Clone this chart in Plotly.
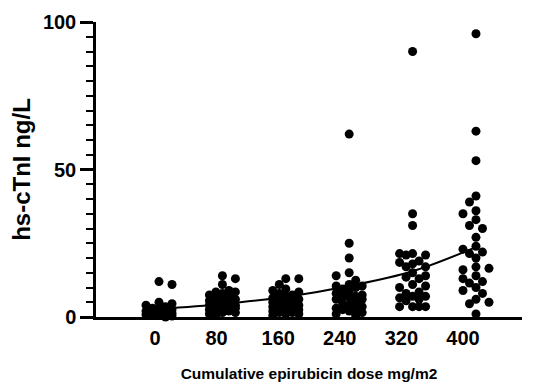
import plotly.graph_objects as go

# ---- data ----
dose_labels = ["0", "80", "160", "240", "320", "400"]
g0 = [12, 11, 5, 4.5, 4, 3.5, 3, 3, 2.5, 2, 2, 1.5, 1.5, 1.2, 1, 0.8, 0.5, 0.5, 0.3, 0]
g80 = [14, 13, 11, 9, 8.5, 8.5, 8, 7.5, 7, 6.5, 6, 6, 5.5, 5, 5, 4.5, 4, 4, 3.5,
       3.5, 3, 3, 2.5, 2, 2, 1.5, 1.5, 1, 0.5]
g160 = [13, 13, 11, 9.5, 9, 8.5, 8, 7.5, 7, 6.5, 6, 6, 5.5, 5, 5, 4.5, 4, 4, 3.5,
        3.5, 3, 3, 2.5, 2, 2, 1.5, 1.5, 1, 1, 0.5]
g240 = [62, 25, 20, 15, 14, 12.5, 11, 10.5, 10.5, 10, 9.5, 8.5, 8, 7.5, 7, 7, 6.5,
        6, 6, 5, 4.5, 4, 3.5, 3, 2.5, 2.5, 2, 1.5, 1, 0.5]
g320 = [90, 35, 31, 21.5, 21, 21.5, 21, 19, 18.5, 18, 17, 17, 15, 14, 13.5, 13, 11,
        10.5, 10, 8.5, 8, 7, 7, 6.5, 6, 5.5, 3.5, 3.5, 3.5, 3.5]
g400 = [96, 63, 53, 41, 39, 36, 35, 33, 31, 30, 27, 24, 23, 22, 21.5, 20, 17, 16.5,
        16, 14, 13, 12, 11.5, 10, 9, 8, 6, 5, 4.5, 1]
groups = [g0, g80, g160, g240, g320, g400]
trend = [2.7, 4.4, 6.8, 10.5, 15.5, 23.7]

# ---- layout constants ----
W, H = 536, 387
ML, MR, MT, MB = 96, 14, 22, 70
XR = [-0.994, 5.726]          # data axis
XR_LABELS = [-0.958, 5.958]   # label axis (labels are set slightly tighter)
YR = [0, 100]
ppu_x = (W - ML - MR) / (XR[1] - XR[0])
ppu_y = (H - MT - MB) / (YR[1] - YR[0])
MS = 9


def swarm(values, d_px=7.5, step_px=6.5, nmax=2):
    placed = []
    offs = [0.0] * len(values)
    order = sorted(range(len(values)), key=lambda i: -values[i])
    cands = [0.0]
    for m in range(1, nmax + 1):
        cands += [-m * step_px, m * step_px]
    for n, i in enumerate(order):
        y = values[i] * ppu_y
        cc = cands if n % 2 == 0 else [-c for c in cands]
        best, best_d = cc[0], -1.0
        chosen = None
        for c in cc:
            dmin = min([((c - px) ** 2 + (y - py) ** 2) ** 0.5 for px, py in placed] or [1e9])
            if dmin >= d_px:
                chosen = c
                break
            if dmin > best_d:
                best, best_d = c, dmin
        if chosen is None:
            chosen = best
        placed.append((chosen, y))
        offs[i] = chosen / ppu_x
    return offs


xs, ys = [], []
for gi, vals in enumerate(groups):
    offs = swarm(vals)
    xs += [gi + o for o in offs]
    ys += vals

font_b = dict(family="Liberation Sans, Arial, sans-serif", color="black", weight="bold")

fig = go.Figure()
fig.add_trace(go.Scatter(
    x=xs, y=ys, mode="markers",
    marker=dict(size=MS, color="black"),
    cliponaxis=False, showlegend=False, hoverinfo="skip"))
fig.add_trace(go.Scatter(
    x=list(range(len(trend))), y=trend, mode="lines",
    line=dict(color="black", width=2, shape="spline"),
    cliponaxis=False, showlegend=False, hoverinfo="skip"))
# carrier trace for the label axis
fig.add_trace(go.Scatter(
    x=list(range(len(dose_labels))), y=[None] * len(dose_labels),
    xaxis="x2", mode="markers", showlegend=False, hoverinfo="skip"))

fig.update_layout(
    width=W, height=H,
    margin=dict(l=ML, r=MR, t=MT, b=MB, autoexpand=False),
    paper_bgcolor="white", plot_bgcolor="white",
    font=dict(**font_b, size=20),
    xaxis=dict(
        range=XR, showgrid=False, zeroline=False, automargin=False,
        showline=True, linecolor="black", linewidth=2.5,
        showticklabels=False, ticks="",
    ),
    xaxis2=dict(
        overlaying="x", side="bottom", anchor="y",
        range=XR_LABELS, showgrid=False, zeroline=False, automargin=False,
        showline=False,
        tickvals=list(range(len(dose_labels))), ticktext=dose_labels,
        ticks="", ticklabelstandoff=7,
        tickfont=dict(**font_b, size=20),
        title=dict(text="Cumulative epirubicin dose mg/m2",
                   font=dict(**font_b, size=15.5), standoff=20),
    ),
)
fig.update_yaxes(
    range=YR, showgrid=False, zeroline=False, automargin=False,
    showline=True, linecolor="black", linewidth=2.5,
    tickvals=[0, 50, 100], ticks="outside", ticklen=13, tickwidth=2.5,
    tickcolor="black",
    minor=dict(dtick=5, tick0=0, ticks="outside", ticklen=7, tickwidth=2,
               tickcolor="black", showgrid=False),
    tickfont=dict(**font_b, size=20),
    title=dict(text="hs-cTnI ng/L", font=dict(**font_b, size=24), standoff=6),
)

fig.write_html(
    "out.html",
    config={"displayModeBar": False},
    post_script="document.body.style.margin='0px';document.body.style.overflow='hidden';",
)
